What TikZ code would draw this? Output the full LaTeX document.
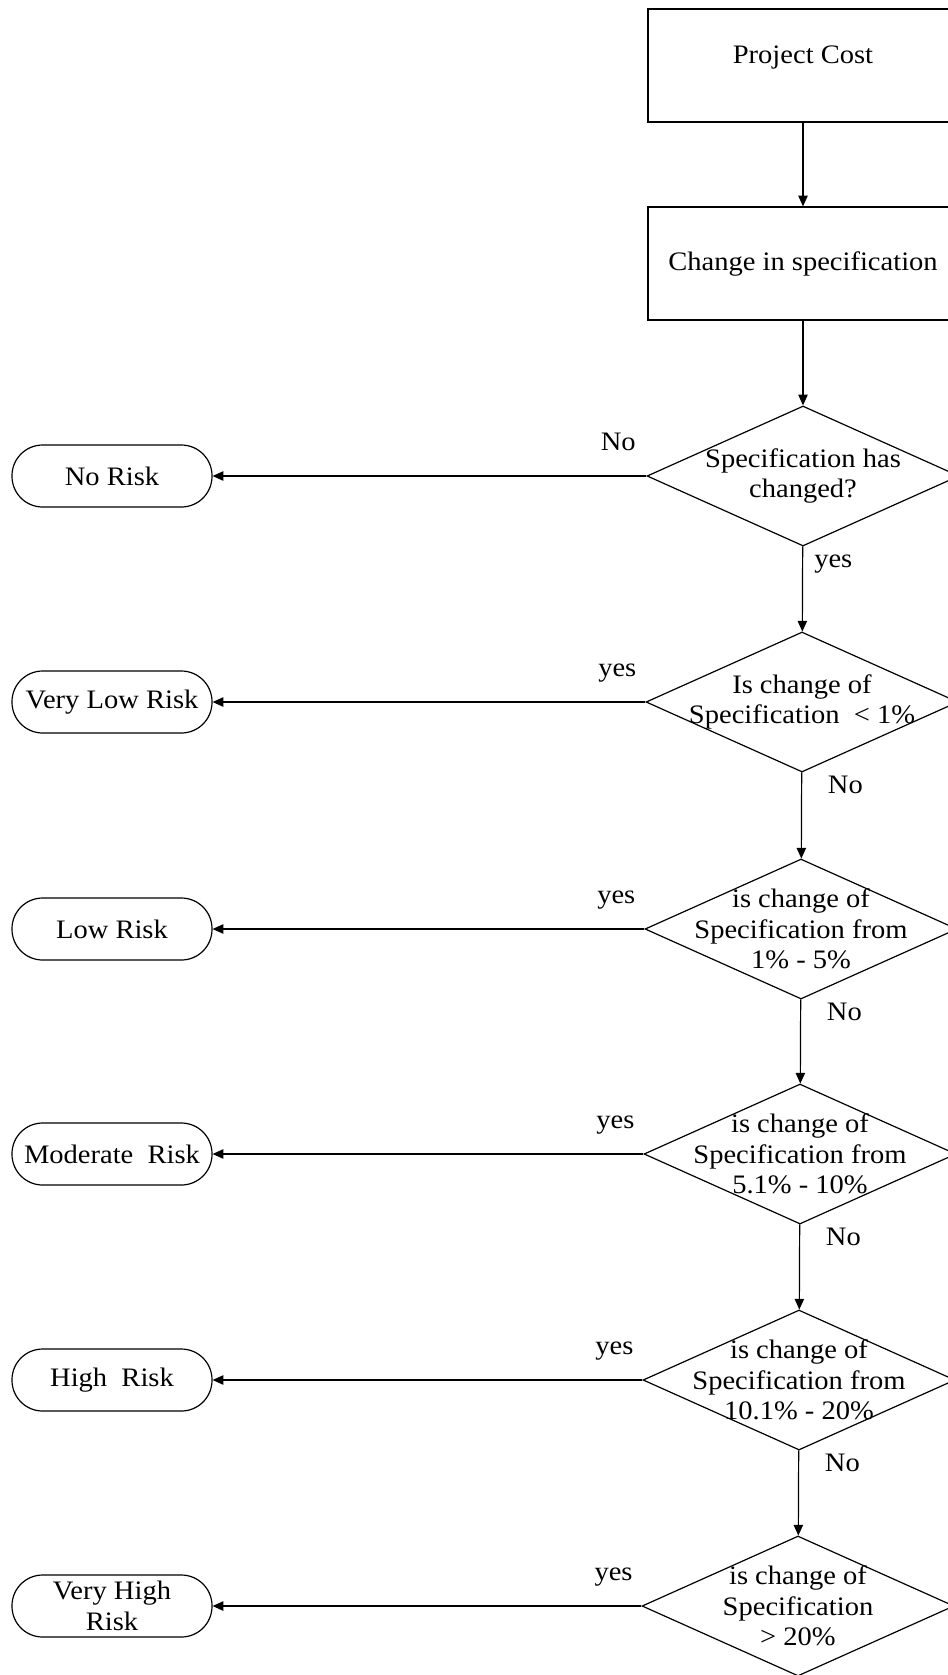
\documentclass[tikz,border=0pt]{standalone}
\usepackage{fontspec}
\setmainfont[FakeStretch=1.07]{Liberation Serif}
\usetikzlibrary{arrows.meta, shapes.geometric}
\tikzset{
  box/.style={draw, rectangle, line width=0.9pt, minimum width=232.5pt, minimum height=84.75pt, align=center},
  test/.style={draw, diamond, line width=0.9pt, inner sep=0pt, minimum width=234pt, minimum height=105pt},
  risk/.style={draw, rectangle, rounded corners=23pt, line width=0.9pt, minimum width=150pt, minimum height=46.5pt, align=center},
  flow/.style={-{Triangle[length=8pt, width=7pt]}, line width=0.9pt},
  sidelbl/.style={pos=0.065, anchor=base, yshift=19pt},
  downlbl/.style={pos=0.25, anchor=base west, xshift=5pt},
  every node/.append style={font=\fontsize{20}{23}\selectfont}
}
\begin{document}
\begin{tikzpicture}[x=0.75pt, y=-0.75pt]
\clip (0,0) rectangle (948,1675);
% top boxes
\node[box] (cost) at (803,65.5) {\raisebox{16pt}{Project Cost}};
\node[box] (spec) at (803,263.5) {Change in specification};
% tests
\node[test, label={[align=center]center:Specification has\\changed?}] (q1) at (803,476) {};
\node[test, label={[align=center]center:Is change of\\Specification \ < 1\%}] (q2) at (802,702) {};
\node[test, label={[align=center]center:is change of\\Specification from\\1\% - 5\%}] (q3) at (801,929) {};
\node[test, label={[align=center]center:is change of\\Specification from\\5.1\% - 10\%}] (q4) at (800,1154) {};
\node[test, label={[align=center]center:is change of\\Specification from\\10.1\% - 20\%}] (q5) at (799,1380) {};
\node[test, label={[align=center]center:is change of\\Specification\\> 20\%}] (q6) at (798,1606) {};
% outcomes
\node[risk] (none) at (112,476) {No Risk};
\node[risk] (vlow) at (112,702) {Very Low Risk};
\node[risk] (low) at (112,929) {Low Risk};
\node[risk] (mod) at (112,1154) {Moderate\ \ Risk};
\node[risk] (high) at (112,1380) {High\ \ Risk};
\node[risk] (vhigh) at (112,1606) {Very High\\Risk};
% connectors
\draw[flow] (cost) -- (spec);
\draw[flow] (spec) -- (q1);
\draw[flow] (q1) -- node[downlbl] {yes} (q2);
\draw[flow] (q2) -- node[downlbl, xshift=11pt] {No} (q3);
\draw[flow] (q3) -- node[downlbl, xshift=11pt] {No} (q4);
\draw[flow] (q4) -- node[downlbl, xshift=11pt] {No} (q5);
\draw[flow] (q5) -- node[downlbl, xshift=11pt] {No} (q6);
\draw[flow] (q1) -- node[sidelbl] {No} (none);
\draw[flow] (q2) -- node[sidelbl] {yes} (vlow);
\draw[flow] (q3) -- node[sidelbl] {yes} (low);
\draw[flow] (q4) -- node[sidelbl] {yes} (mod);
\draw[flow] (q5) -- node[sidelbl] {yes} (high);
\draw[flow] (q6) -- node[sidelbl] {yes} (vhigh);
\end{tikzpicture}
\end{document}
